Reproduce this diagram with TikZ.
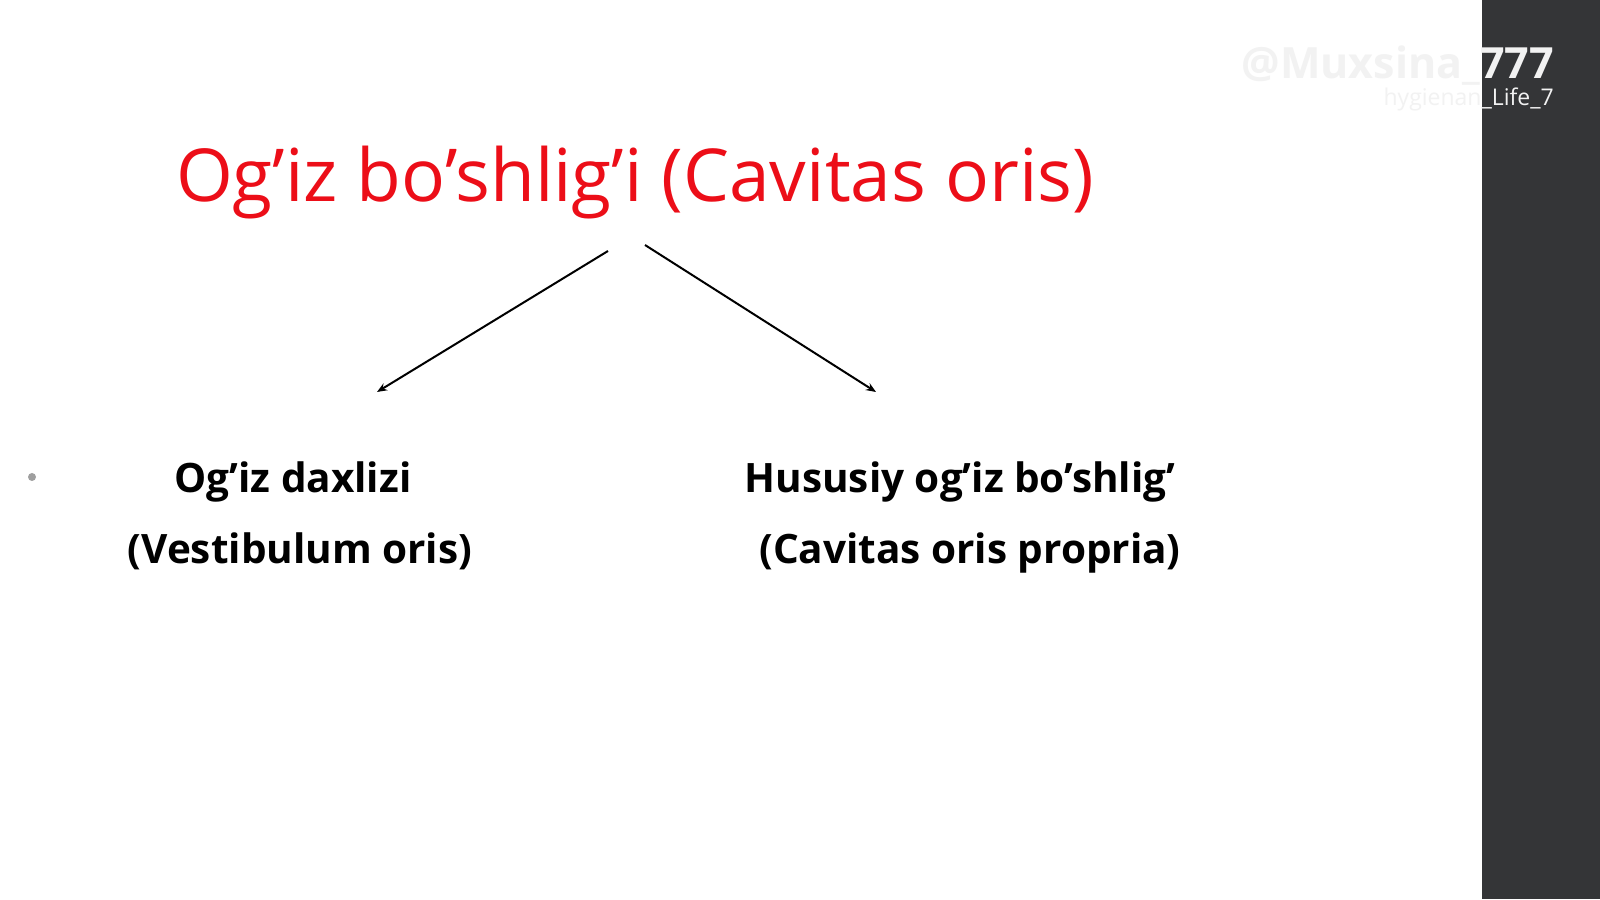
\documentclass[tikz,border=0pt]{standalone}
\usepackage{fontspec}
\setmainfont{Open Sans}
\usetikzlibrary{arrows.meta}
\definecolor{titlered}{RGB}{236,14,24}
\definecolor{barcol}{RGB}{52,53,55}
\definecolor{wmark}{RGB}{242,242,242}
\begin{document}
\begin{tikzpicture}[x=1pt,y=1pt,
  titlestyle/.style={text=titlered, font=\fontsize{73}{88}\selectfont, inner sep=0pt, anchor=base},
  itemstyle/.style={text=black, font=\bfseries\fontsize{40.5}{49}\selectfont, inner sep=0pt, anchor=base},
  wmstyle/.style={text=wmark, inner sep=0pt, anchor=base east},
  conn/.style={line width=2pt, -{Stealth[length=10pt,width=8pt]}}]
\useasboundingbox (0,0) rectangle (1600,899);
\fill[white] (0,0) rectangle (1600,899);
\fill[barcol] (1482,0) rectangle (1600,899);
% title
\node[titlestyle] (title) at (635,697) {Og’iz bo’shlig’i (Cavitas oris)};
% items
\node[itemstyle] (l1) at (293,406) {Og’iz daxlizi};
\node[itemstyle] (l2) at (300,335) {(Vestibulum oris)};
\node[itemstyle] (r1) at (960,406) {Hususiy og’iz bo’shlig’};
\node[itemstyle] (r2) at (970,335) {(Cavitas oris propria)};
% bullet
\fill[gray!75] (32,422) circle (4) coordinate (bullet);
% connectors
\coordinate (ls) at (608,648);
\coordinate (le) at (377,507);
\coordinate (rs) at (645,654);
\coordinate (re) at (876,507);
\draw[conn] (ls) -- (le);
\draw[conn] (rs) -- (re);
% watermark
\node[wmstyle, font=\bfseries\fontsize{43}{52}\selectfont] (wm1) at (1554,820) {@Muxsina\_777};
\node[wmstyle, font=\fontsize{23}{28}\selectfont] (wm2) at (1554,793) {hygienan\_Life\_7};
\end{tikzpicture}
\end{document}
